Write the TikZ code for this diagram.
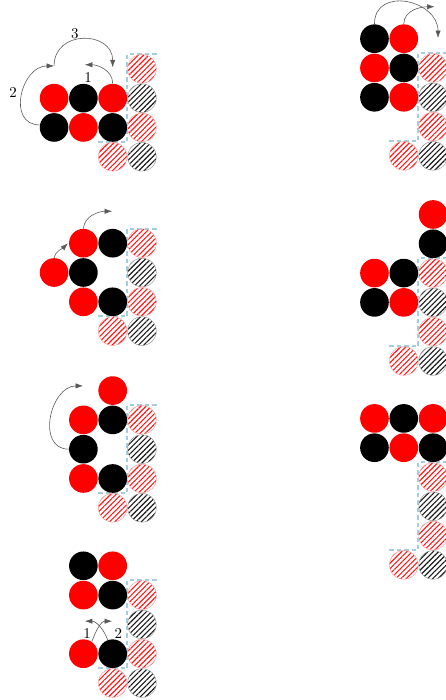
\documentclass[tikz,border=0pt]{standalone}
\usepackage{tikz}
\usetikzlibrary{arrows.meta,patterns.meta}
\definecolor{frameblue}{RGB}{165,205,220}

\begin{document}
\begin{tikzpicture}[x=0.69cm,y=0.69cm,
  peg/.style={circle,inner sep=0pt,minimum size=19.2pt},
  redpeg/.style={peg,fill=red},
  blackpeg/.style={peg,fill=black},
  redhole/.style={peg,draw=red!40,line width=0.3pt,
    pattern={Lines[angle=45,distance=2.5pt,line width=0.75pt]},pattern color=red!90},
  blackhole/.style={peg,draw=black!40,line width=0.3pt,
    pattern={Lines[angle=45,distance=2.5pt,line width=0.75pt]},pattern color=black!90},
  frame/.style={frameblue,line width=1.3pt,dash pattern=on 3pt off 2pt},
  move/.style={black!65,line width=0.4pt,-{Latex[length=5pt,width=3.5pt]}}]

  \clip (0,0) rectangle (15.22,23.89);
  % board edge: hatched holes and dashed outline, same in every step
  \foreach \p/\fx/\fy in {a/4.846/21.54,b/14.78/21.57,c/4.846/15.59,d/14.78/14.57,
                          e/4.846/9.56,f/14.78/7.61,g/4.846/3.58}{
    \begin{scope}[shift={(\fx,\fy)}]
      \draw[frame] (0.5,0.5) -- (-0.5,0.5) -- (-0.5,-2.5) -- (-1.5,-2.5);
      \node[redhole] (\p-h1) at (0,0) {};
      \node[blackhole] (\p-h2) at (0,-1) {};
      \node[redhole] (\p-h3) at (0,-2) {};
      \node[redhole] (\p-h4) at (-1,-3) {};
      \node[blackhole] (\p-h5) at (0,-3) {};
    \end{scope}
  }

  % step 1
  \begin{scope}[shift={(4.846,21.54)}]
    \node[redpeg] (a1) at (-3,-1) {};
    \node[blackpeg] (a2) at (-2,-1) {};
    \node[redpeg] (a3) at (-1,-1) {};
    \node[blackpeg] (a4) at (-3,-2) {};
    \node[redpeg] (a5) at (-2,-2) {};
    \node[blackpeg] (a6) at (-1,-2) {};
    \coordinate (a-t1) at (-1.95,0.14);
    \coordinate (a-m) at (-3,0.1);
    \coordinate (a-t3) at (-1,0.05);
    \draw[move] (a3.north) to[out=90,in=0] (a-t1);
    \draw[move] (a4.170) to[out=180,in=180,looseness=1.4] (a-m);
    \draw[move] (a-m) to[out=90,in=90,looseness=1.6] (a-t3);
    \node (a-l1) at (-1.84,-0.31) {1};
    \node (a-l2) at (-4.40,-0.82) {2};
    \node (a-l3) at (-2.29,1.19) {3};
  \end{scope}

  % step 2
  \begin{scope}[shift={(14.78,21.57)}]
    \node[blackpeg] (b1) at (-2,1) {};
    \node[redpeg] (b2) at (-1,1) {};
    \node[redpeg] (b3) at (-2,0) {};
    \node[blackpeg] (b4) at (-1,0) {};
    \node[blackpeg] (b5) at (-2,-1) {};
    \node[redpeg] (b6) at (-1,-1) {};
    \coordinate (b-t1) at (0.17,1.02);
    \coordinate (b-t2) at (0.05,2.09);
    \draw[move] (b1.north) to[out=90,in=90,looseness=1.5] (b-t1);
    \draw[move] (b2.north) to[out=90,in=180] (b-t2);
  \end{scope}

  % step 3
  \begin{scope}[shift={(4.846,15.59)}]
    \node[redpeg] (c1) at (-2,0) {};
    \node[blackpeg] (c2) at (-1,0) {};
    \node[redpeg] (c3) at (-3,-1) {};
    \node[blackpeg] (c4) at (-2,-1) {};
    \node[redpeg] (c5) at (-2,-2) {};
    \node[blackpeg] (c6) at (-1,-2) {};
    \coordinate (c-t1) at (-2.53,0);
    \coordinate (c-t2) at (-1.02,1.09);
    \draw[move] (c3.north) to[out=75,in=225] (c-t1);
    \draw[move] (c1.north) to[out=85,in=180] (c-t2);
  \end{scope}

  % step 4
  \begin{scope}[shift={(14.78,14.57)}]
    \node[redpeg] (d1) at (0,2) {};
    \node[blackpeg] (d2) at (0,1) {};
    \node[redpeg] (d3) at (-2,0) {};
    \node[blackpeg] (d4) at (-1,0) {};
    \node[blackpeg] (d5) at (-2,-1) {};
    \node[redpeg] (d6) at (-1,-1) {};
  \end{scope}

  % step 5
  \begin{scope}[shift={(4.846,9.56)}]
    \node[redpeg] (e1) at (-1,1) {};
    \node[redpeg] (e2) at (-2,0) {};
    \node[blackpeg] (e3) at (-1,0) {};
    \node[blackpeg] (e4) at (-2,-1) {};
    \node[redpeg] (e5) at (-2,-2) {};
    \node[blackpeg] (e6) at (-1,-2) {};
    \coordinate (e-t) at (-2.01,1.16);
    \draw[move] (e4.west) to[out=180,in=180,looseness=1.3] (e-t);
  \end{scope}

  % step 6
  \begin{scope}[shift={(14.78,7.61)}]
    \node[redpeg] (f1) at (-2,2) {};
    \node[blackpeg] (f2) at (-1,2) {};
    \node[redpeg] (f3) at (0,2) {};
    \node[blackpeg] (f4) at (-2,1) {};
    \node[redpeg] (f5) at (-1,1) {};
    \node[blackpeg] (f6) at (0,1) {};
  \end{scope}

  % step 7
  \begin{scope}[shift={(4.846,3.58)}]
    \node[blackpeg] (g1) at (-2,1) {};
    \node[redpeg] (g2) at (-1,1) {};
    \node[redpeg] (g3) at (-2,0) {};
    \node[blackpeg] (g4) at (-1,0) {};
    \node[redpeg] (g5) at (-2,-2) {};
    \node[blackpeg] (g6) at (-1,-2) {};
    \coordinate (g-t1) at (-1.02,-0.89);
    \coordinate (g-t2) at (-1.95,-0.89);
    \draw[move] (g5.55) to[out=70,in=180] (g-t1);
    \draw[move] (g6.110) to[out=110,in=0] (g-t2);
    \node (g-l1) at (-1.87,-1.31) {1};
    \node (g-l2) at (-0.81,-1.31) {2};
  \end{scope}
\end{tikzpicture}
\end{document}
